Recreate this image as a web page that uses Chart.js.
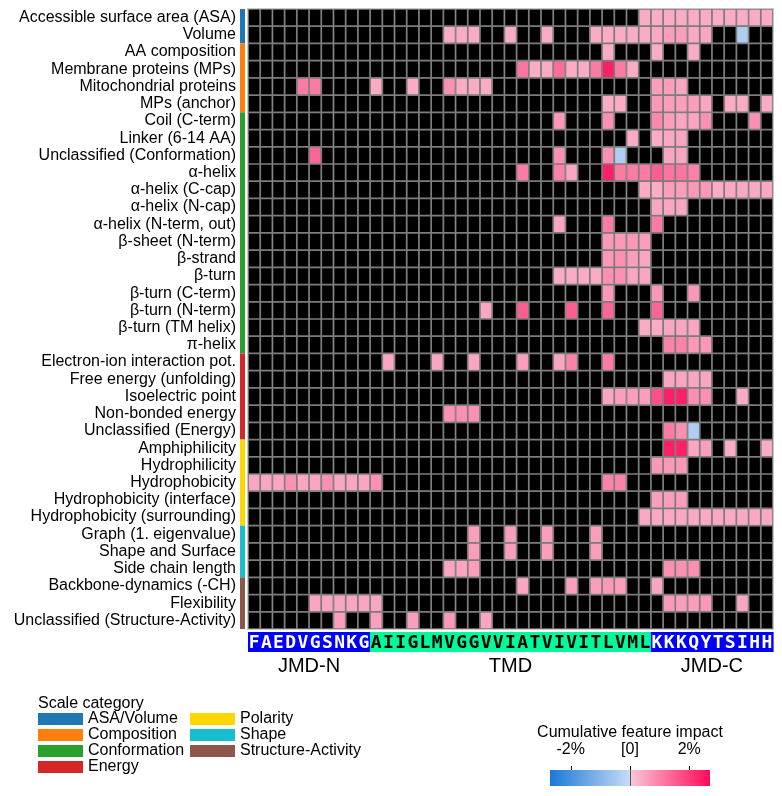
<!DOCTYPE html>
<html>
<head>
<meta charset="utf-8">
<script src="https://cdn.jsdelivr.net/npm/chart.js@4/dist/chart.umd.min.js"></script>
<style>
  html, body { margin: 0; padding: 0; background: #fff; }
  canvas { display: block; }
</style>
</head>
<body>
<canvas id="cppPlot" width="782" height="796"></canvas>
<script>
// Sequence parts (one residue per column)
const jmdN = 'FAEDVGSNKG'.split('');
const tmd = 'AIIGLMVGGVVIATVIVITLVML'.split('');
const jmdC = 'KKKQYTSIHH'.split('');
const residues = [...jmdN, ...tmd, ...jmdC];
const partNames = ['JMD-N', 'TMD', 'JMD-C'];

// Feature rows (top to bottom)
const rowLabels = [
  'Accessible surface area (ASA)', 'Volume', 'AA composition', 'Membrane proteins (MPs)',
  'Mitochondrial proteins', 'MPs (anchor)', 'Coil (C-term)', 'Linker (6-14 AA)',
  'Unclassified (Conformation)', 'α-helix', 'α-helix (C-cap)', 'α-helix (N-cap)',
  'α-helix (N-term, out)', 'β-sheet (N-term)', 'β-strand', 'β-turn', 'β-turn (C-term)',
  'β-turn (N-term)', 'β-turn (TM helix)', 'π-helix', 'Electron-ion interaction pot.',
  'Free energy (unfolding)', 'Isoelectric point', 'Non-bonded energy', 'Unclassified (Energy)',
  'Amphiphilicity', 'Hydrophilicity', 'Hydrophobicity', 'Hydrophobicity (interface)',
  'Hydrophobicity (surrounding)', 'Graph (1. eigenvalue)', 'Shape and Surface',
  'Side chain length', 'Backbone-dynamics (-CH)', 'Flexibility', 'Unclassified (Structure-Activity)'
];

// Scale categories: name, colour, number of rows
const catNames = ['ASA/Volume', 'Composition', 'Conformation', 'Energy', 'Polarity', 'Shape', 'Structure-Activity'];
const catColors = ['#1f77b4', '#ff7f0e', '#2ca02c', '#d62728', '#ffd700', '#17becf', '#8c564b'];
const catRows = [2, 4, 14, 5, 5, 3, 3];

// Feature impact per row in %: [column, value]; other cells are 0
const impact = [
  [[32,.4],[33,.4],[34,.4],[35,.4],[36,.4],[37,.4],[38,.4],[39,.4],[40,.4],[41,.4],[42,.4]],
  [[16,.4],[17,.4],[18,.4],[21,.4],[24,.4],[28,.4],[29,.4],[30,.4],[31,.4],[32,.4],[33,.45],[34,.6],[35,.6],[36,.45],[37,.5],[40,-.4]],
  [[29,.4],[33,.4],[36,.4]],
  [[22,1.2],[23,.4],[24,.4],[25,1.3],[26,.4],[27,.4],[28,1.1],[29,2.4],[30,1.1],[31,.4]],
  [[4,1.1],[5,1.1],[10,.4],[13,.4],[16,.8],[17,.4],[18,.4],[19,.4],[33,.6],[34,.6],[35,.5]],
  [[29,.4],[30,.4],[33,.7],[34,.6],[35,.6],[36,.6],[37,.5],[39,.4],[40,.4],[42,.4]],
  [[25,.7],[29,.8],[33,.9],[34,.6],[35,.5],[36,.5],[37,.8],[41,.8]],
  [[31,.4],[33,.4],[34,.45],[35,.5]],
  [[5,1.4],[25,.8],[29,.8],[30,-.4],[34,.5],[35,.5]],
  [[22,1.1],[25,1.0],[26,.5],[29,2.4],[30,1.1],[31,1.1],[32,1.1],[33,1.5],[34,1.2],[35,1.2],[36,1.0]],
  [[32,.4],[33,.4],[34,.6],[35,.6],[36,.7],[37,.7],[38,.4],[39,.45],[40,.45],[41,.45],[42,.45]],
  [[33,.5],[34,.5],[35,.5]],
  [[25,.5],[29,1.1],[33,1.1]],
  [[29,.7],[30,.7],[31,.7],[32,.6]],
  [[29,.7],[30,.8],[31,.6],[32,.5]],
  [[25,.4],[26,.4],[27,.4],[28,.4],[29,.8],[30,.8],[31,.5],[32,.5]],
  [[29,.7],[33,.7],[36,.7]],
  [[19,.5],[22,1.5],[26,1.5],[29,1.4],[33,1.4]],
  [[32,.4],[33,.4],[34,.5],[35,.5],[36,.5]],
  [[34,1.0],[35,1.0],[36,.7],[37,.7]],
  [[11,.5],[15,.5],[18,.5],[22,.6],[25,.5],[26,1.0],[29,1.1]],
  [[34,.5],[35,.5],[36,.5],[37,.5]],
  [[29,.5],[30,.6],[31,.6],[32,.6],[33,1.7],[34,2.4],[35,2.4],[36,.8],[37,.8],[40,.4]],
  [[16,.8],[17,.8],[18,.8]],
  [[34,1.1],[35,.8],[36,-.4]],
  [[34,2.4],[35,2.4],[36,.5],[37,.6],[39,.4],[42,.4]],
  [[33,.7],[34,.7],[35,.7]],
  [[0,.5],[1,.5],[2,.5],[3,.8],[4,.5],[5,.5],[6,.8],[7,.5],[8,.5],[9,.5],[10,.8],[29,1.0],[30,1.0]],
  [[33,.6],[34,.6],[35,.6]],
  [[32,.45],[33,.45],[34,.45],[35,.45],[36,.45],[37,.45],[38,.45],[39,.45],[40,.45],[41,.45],[42,.45]],
  [[18,.6],[21,.6],[24,.6],[28,.6]],
  [[18,.6],[21,.6],[24,.6],[28,.6]],
  [[16,.5],[17,.5],[18,.6],[34,.8],[35,.8],[36,.8]],
  [[22,.5],[26,.6],[28,.6],[29,.7],[30,.6],[33,.5]],
  [[5,.5],[6,.5],[7,.5],[8,.5],[9,.5],[10,.5],[34,.7],[35,.6],[36,.6],[37,.7],[40,.5]],
  [[7,.6],[10,.6],[13,.6],[16,.7],[19,.5]]
];

// Colour bar
const cbMin = -2.7, cbMax = 2.7;
const cbTicks = [-2, 0, 2];
const cbTickLabels = ['-2%', '[0]', '2%'];

const FONT = '"Liberation Sans", Arial, sans-serif';

function mix(a, b, t) {
  return 'rgb(' + a.map((c, i) => Math.round(c + (b[i] - c) * t)).join(',') + ')';
}
function colorFor(v) {
  if (v === 0) return '#000000';
  if (v > 0) return mix([249, 200, 216], [255, 10, 90], Math.min(v / cbMax, 1));
  return mix([200, 220, 245], [25, 120, 215], Math.min(v / cbMin, 1));
}

// full matrix from the sparse lists
const matrix = impact.map(cells => {
  const row = residues.map(() => 0);
  cells.forEach(([c, v]) => { row[c] = v; });
  return row;
});

const datasets = matrix.map((row, r) => ({
  data: row.map(() => [r, r + 1]),
  backgroundColor: row.map(colorFor),
  borderColor: '#7c7c7c',
  borderWidth: 1.2,
  borderSkipped: false,
  grouped: false,
  barPercentage: 1,
  categoryPercentage: 1
}));

const decor = {
  id: 'decor',
  afterDraw(chart) {
    const { ctx, chartArea: a, scales: { x, y } } = chart;
    const w = (a.right - a.left) / residues.length;
    ctx.save();

    // outline
    ctx.strokeStyle = '#c8c8c8';
    ctx.lineWidth = 1;
    ctx.strokeRect(a.left - 0.5, a.top - 0.5, a.right - a.left + 1, a.bottom - a.top + 1);

    // category strip
    let start = 0;
    catRows.forEach((n, k) => {
      const y0 = y.getPixelForValue(start), y1 = y.getPixelForValue(start + n);
      ctx.fillStyle = catColors[k];
      ctx.fillRect(a.left - 8, y0, 5, y1 - y0);
      start += n;
    });

    // sequence band
    const bandTop = a.bottom + 3, bandH = 20;
    ctx.font = 'bold 18px "DejaVu Sans Mono", monospace';
    ctx.textAlign = 'center';
    ctx.textBaseline = 'middle';
    residues.forEach((res, i) => {
      const cx = x.getPixelForValue(i);
      const inTmd = i >= jmdN.length && i < jmdN.length + tmd.length;
      ctx.fillStyle = inTmd ? '#00fa9a' : '#0000ff';
      ctx.fillRect(cx - w / 2, bandTop, w + 0.6, bandH);
    });
    residues.forEach((res, i) => {
      const cx = x.getPixelForValue(i);
      const inTmd = i >= jmdN.length && i < jmdN.length + tmd.length;
      ctx.fillStyle = inTmd ? '#000000' : '#ffffff';
      ctx.fillText(res, cx, bandTop + bandH / 2 + 1);
    });

    // part names
    const parts = [jmdN.length, tmd.length, jmdC.length];
    let first = 0;
    ctx.font = '20px ' + FONT;
    ctx.fillStyle = '#000';
    parts.forEach((n, k) => {
      const cx = (x.getPixelForValue(first) + x.getPixelForValue(first + n - 1)) / 2;
      ctx.fillText(partNames[k], cx, a.bottom + 37);
      first += n;
    });

    // category legend
    ctx.textAlign = 'left';
    ctx.font = '16px ' + FONT;
    ctx.fillText('Scale category', 38, 704);
    catNames.forEach((name, k) => {
      const col = k < 4 ? 0 : 1;
      const rowY = 719 + (k < 4 ? k : k - 4) * 16;
      const lx = col === 0 ? 38 : 190;
      ctx.fillStyle = catColors[k];
      ctx.fillRect(lx, rowY - 6, 45, 12);
      ctx.fillStyle = '#000';
      ctx.fillText(name, lx + 50, rowY);
    });

    // colour bar
    const cbL = 550, cbR = 710, cbT = 770, cbH = 16;
    const pos = v => cbL + (v - cbMin) / (cbMax - cbMin) * (cbR - cbL);
    const grad = ctx.createLinearGradient(cbL, 0, cbR, 0);
    const z = (0 - cbMin) / (cbMax - cbMin);
    grad.addColorStop(0, colorFor(cbMin));
    grad.addColorStop(z - 0.001, colorFor(-0.0001));
    grad.addColorStop(z + 0.001, colorFor(0.0001));
    grad.addColorStop(1, colorFor(cbMax));
    ctx.fillStyle = grad;
    ctx.fillRect(cbL, cbT, cbR - cbL, cbH);
    ctx.strokeStyle = '#555';
    ctx.beginPath();
    ctx.moveTo(Math.round(pos(0)) + 0.5, cbT);
    ctx.lineTo(Math.round(pos(0)) + 0.5, cbT + cbH);
    ctx.stroke();
    ctx.strokeStyle = '#000';
    ctx.fillStyle = '#000';
    ctx.textAlign = 'center';
    cbTicks.forEach((t, k) => {
      const px = Math.round(pos(t)) + 0.5;
      ctx.beginPath();
      ctx.moveTo(px, cbT - 4);
      ctx.lineTo(px, cbT);
      ctx.stroke();
      ctx.fillText(cbTickLabels[k], pos(t), 750);
    });
    ctx.fillText('Cumulative feature impact', pos(0), 733);

    ctx.restore();
  }
};

new Chart(document.getElementById('cppPlot'), {
  type: 'bar',
  data: { labels: residues, datasets },
  options: {
    responsive: false,
    animation: false,
    layout: { padding: { top: 9, right: 9, left: 0, bottom: 0 } },
    plugins: { legend: { display: false }, tooltip: { enabled: false } },
    scales: {
      x: {
        grid: { display: false, drawTicks: false },
        border: { display: false },
        ticks: { display: false },
        afterFit(s) {
          s.height = 167;
          s.paddingLeft = 0; s.paddingRight = 0;
        }
      },
      y: {
        type: 'linear',
        min: 0,
        max: rowLabels.length,
        reverse: true,
        grid: { display: false, drawTicks: false },
        border: { display: false },
        afterBuildTicks(s) { s.ticks = rowLabels.map((_, i) => ({ value: i + 0.5 })); },
        afterFit(s) {
          s.width = 248;
          s.paddingTop = 0; s.paddingBottom = 0;
        },
        ticks: {
          autoSkip: false,
          padding: 12,
          color: '#000',
          font: { family: FONT, size: 16 },
          callback: v => rowLabels[Math.floor(v)]
        }
      }
    }
  },
  plugins: [decor]
});
</script>
</body>
</html>
